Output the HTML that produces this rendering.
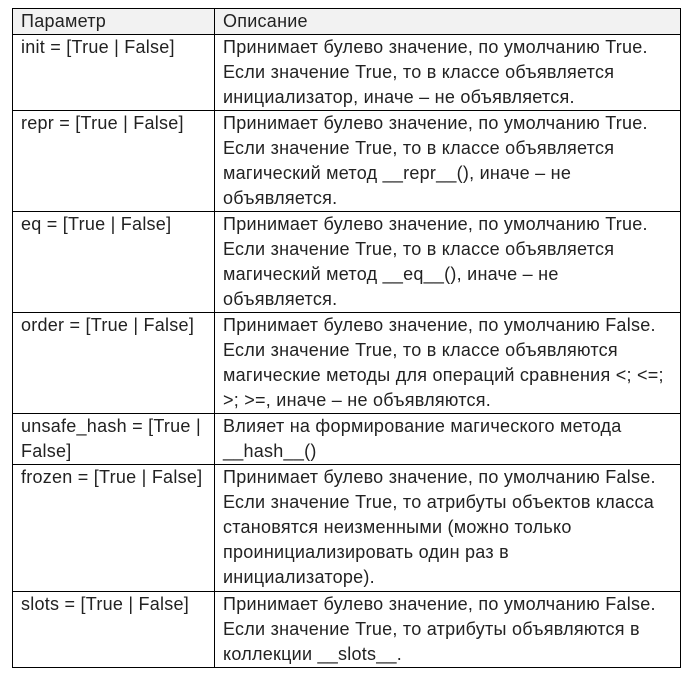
<!DOCTYPE html>
<html><head><meta charset="utf-8"><style>
body{margin:0;background:#fff;width:687px;height:675px;position:relative;font-family:"Liberation Sans",sans-serif;font-size:18px;letter-spacing:0.25px;color:#222;}
table{position:absolute;left:12px;top:8px;border-collapse:collapse;width:669px;table-layout:fixed;}
td{border:1.3px solid #000;vertical-align:top;padding:0 7px 0 8px;line-height:25px;white-space:nowrap;overflow:hidden;}
col.a{width:202px;}
tr.h td{background:#f2f2f2;height:24px;}
</style></head><body>
<table>
<colgroup><col class="a"><col></colgroup>
<tr class="h"><td>Параметр</td><td>Описание</td></tr>
<tr style="height:74px"><td>init = [True | False]</td><td>Принимает булево значение, по умолчанию True.<br>Если значение True, то в классе объявляется<br>инициализатор, иначе – не объявляется.</td></tr>
<tr style="height:101px"><td>repr = [True | False]</td><td>Принимает булево значение, по умолчанию True.<br>Если значение True, то в классе объявляется<br>магический метод __repr__(), иначе – не<br>объявляется.</td></tr>
<tr style="height:101px"><td>eq = [True | False]</td><td>Принимает булево значение, по умолчанию True.<br>Если значение True, то в классе объявляется<br>магический метод __eq__(), иначе – не<br>объявляется.</td></tr>
<tr style="height:101px"><td>order = [True | False]</td><td>Принимает булево значение, по умолчанию False.<br>Если значение True, то в классе объявляются<br>магические методы для операций сравнения &lt;; &lt;=;<br>&gt;; &gt;=, иначе – не объявляются.</td></tr>
<tr style="height:51px"><td>unsafe_hash = [True |<br>False]</td><td>Влияет на формирование магического метода<br>__hash__()</td></tr>
<tr style="height:127px"><td>frozen = [True | False]</td><td>Принимает булево значение, по умолчанию False.<br>Если значение True, то атрибуты объектов класса<br>становятся неизменными (можно только<br>проинициализировать один раз в<br>инициализаторе).</td></tr>
<tr style="height:76px"><td>slots = [True | False]</td><td>Принимает булево значение, по умолчанию False.<br>Если значение True, то атрибуты объявляются в<br>коллекции __slots__.</td></tr>
</table>
</body></html>
